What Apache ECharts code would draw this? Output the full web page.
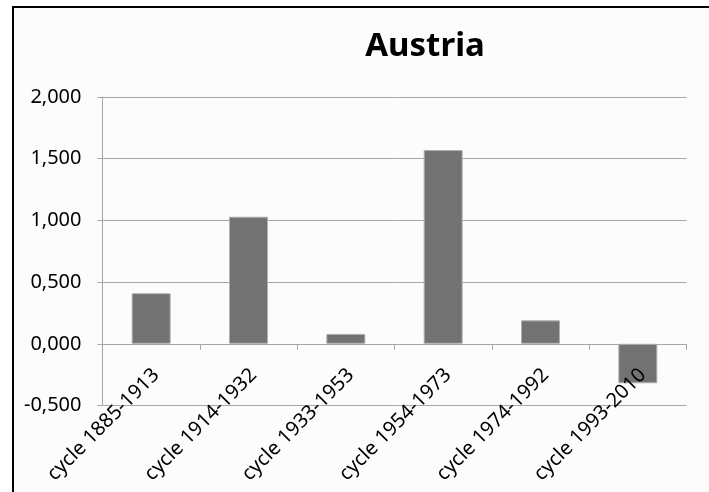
<!DOCTYPE html>
<html>
<head>
<meta charset="utf-8">
<script src="https://cdn.jsdelivr.net/npm/echarts@6/dist/echarts.min.js"></script>
<style>
html,body{margin:0;padding:0;background:#ffffff;width:709px;height:492px;overflow:hidden;}
#frame{position:absolute;left:12px;top:6px;width:760px;height:560px;border:2px solid #000;background:#fcfcfc;}
#chart{position:absolute;left:0;top:0;width:709px;height:492px;}
</style>
</head>
<body>
<div id="frame"></div>
<div id="chart"></div>
<script>
const titleText = "Austria";
const categories = ["cycle 1885-1913","cycle 1914-1932","cycle 1933-1953","cycle 1954-1973","cycle 1974-1992","cycle 1993-2010"];
const values = [0.41, 1.03, 0.08, 1.57, 0.19, -0.32];
const yMin = -0.5, yMax = 2.0, yStep = 0.5;

const chart = echarts.init(document.getElementById('chart'), null, {renderer:'canvas'});
const font = '"Noto Sans", "Liberation Sans", sans-serif';
const gridTop = 97, gridBottom = 86.5, plotH = 492 - gridTop - gridBottom;
// distance from the bottom of the plot up to the zero line (labels sit by the zero line)
const zeroOffset = plotH * (0 - yMin) / (yMax - yMin);
chart.setOption({
  backgroundColor: 'transparent',
  animation: false,
  title: {
    text: titleText,
    left: 420, top: 25, textAlign: 'center',
    textStyle: {fontFamily: font, fontWeight: 'bold', fontSize: 33, color: '#000'}
  },
  grid: {left: 102.5, right: 22.5, top: gridTop, bottom: gridBottom, containLabel: false, outerBoundsMode: 'none'},
  xAxis: {
    type: 'category',
    data: categories,
    boundaryGap: true,
    z: 5,
    axisLine: {show: true, onZero: true, lineStyle: {color: '#a6a6a6', width: 1}},
    axisTick: {show: true, length: 6, alignWithLabel: false, lineStyle: {color: '#a6a6a6'}},
    axisLabel: {
      rotate: 45, margin: 19 - zeroOffset, interval: 0, hideOverlap: false,
      align: 'right', verticalAlign: 'top', padding: [0, 3, 0, 0],
      fontFamily: font, fontSize: 20, color: '#000'
    },
    splitLine: {show: false}
  },
  yAxis: {
    type: 'value',
    min: yMin, max: yMax, interval: yStep,
    axisLine: {show: true, lineStyle: {color: '#a6a6a6', width: 1}},
    axisTick: {show: true, length: 5, lineStyle: {color: '#a6a6a6'}},
    axisLabel: {
      margin: 21, fontFamily: font, fontSize: 20, color: '#000',
      formatter: v => v.toFixed(3).replace('.', ',')
    },
    splitLine: {show: true, lineStyle: {color: '#a6a6a6', width: 1}}
  },
  series: [{
    type: 'bar',
    data: values,
    barWidth: 39,
    itemStyle: {color: '#727272', borderColor: '#b0b0b0', borderWidth: 1}
  }]
});
</script>
</body>
</html>
